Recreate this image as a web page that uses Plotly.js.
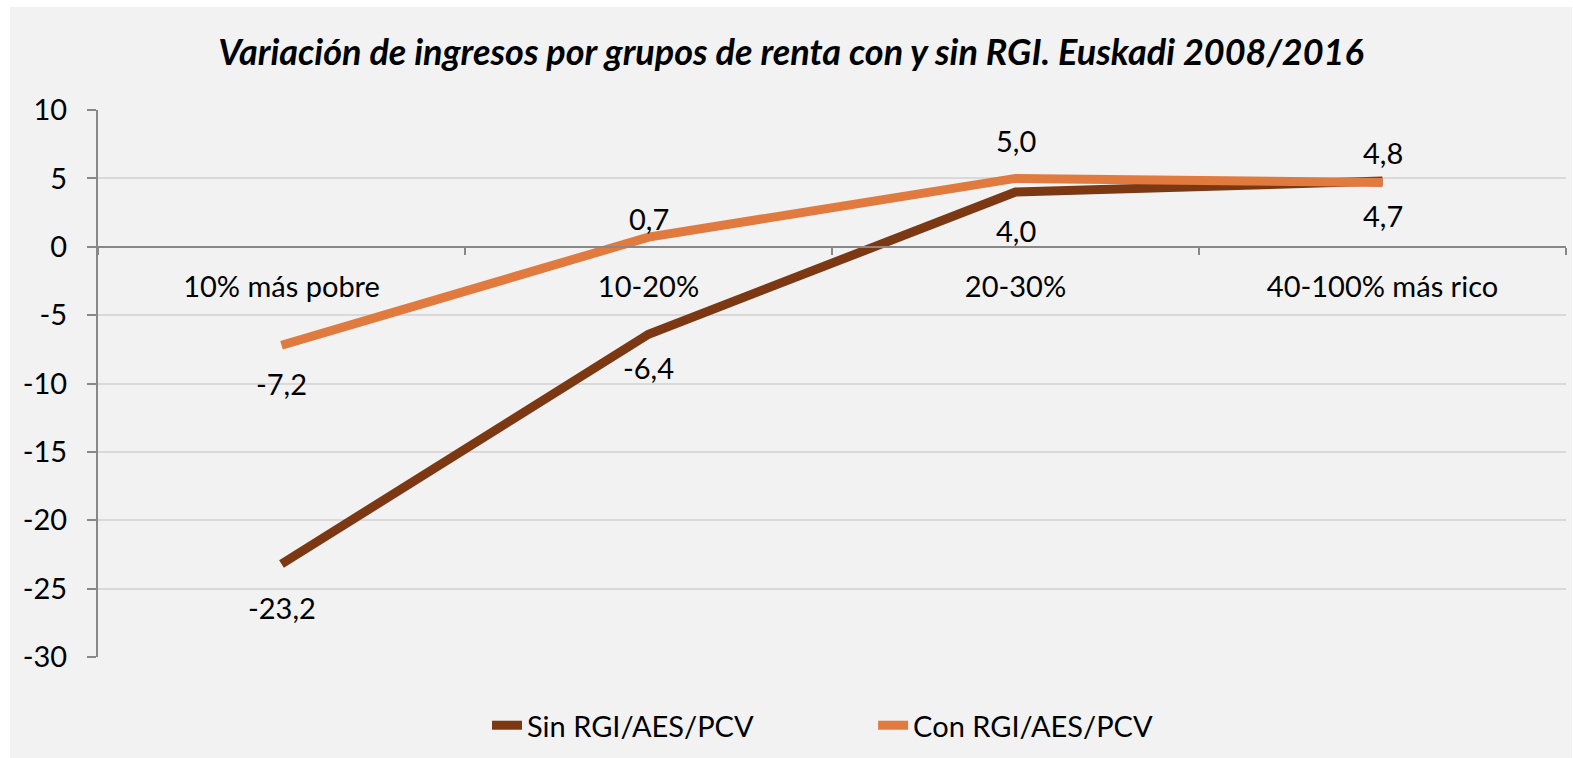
<!DOCTYPE html>
<html>
<head>
<meta charset="utf-8">
<script src="https://cdn.plot.ly/plotly-3.0.1.min.js"></script>
<style>
  html, body { margin: 0; padding: 0; background: #ffffff; }
  #chart { position: absolute; left: 10px; top: 7px; width: 1562px; height: 751px; }
</style>
</head>
<body>
<div id="chart"></div>
<script>
// ---- data ----
const categories = ["10% más pobre", "10-20%", "20-30%", "40-100% más rico"];
const sinValues = [-23.2, -6.4, 4.0, 4.8];
const conValues = [-7.2, 0.7, 5.0, 4.7];
const seriesNames = ["Sin RGI/AES/PCV", "Con RGI/AES/PCV"];
const yTicks = [-30, -25, -20, -15, -10, -5, 0, 5, 10];

// ---- label placement (style) ----
const sinShift = [-43, -33, -38, 29];
const conShift = [-38, 19, 38, -33];

const fontFam = "Lato, 'Open Sans', 'Liberation Sans', sans-serif";
const fmt = v => v.toFixed(1).replace('.', ',');
const FS = 29;

const traces = [
  { x: categories, y: sinValues, name: seriesNames[0], type: 'scatter', mode: 'lines',
    line: { color: '#7b3812', width: 9 }, hoverinfo: 'skip', legend: 'legend' },
  { x: categories, y: conValues, name: seriesNames[1], type: 'scatter', mode: 'lines',
    line: { color: '#e07a3f', width: 9 }, hoverinfo: 'skip', legend: 'legend2' }
];

const annotations = [];
categories.forEach((c, i) => {
  annotations.push({ x: c, y: sinValues[i], xref: 'x', yref: 'y', text: fmt(sinValues[i]),
    showarrow: false, yshift: sinShift[i], font: { family: fontFam, size: FS, color: '#000' } });
  annotations.push({ x: c, y: conValues[i], xref: 'x', yref: 'y', text: fmt(conValues[i]),
    showarrow: false, yshift: conShift[i], font: { family: fontFam, size: FS, color: '#000' } });
});

const legendBase = { orientation: 'h', xanchor: 'left', y: -0.125, yanchor: 'middle',
  font: { family: fontFam, size: FS, color: '#000' }, bgcolor: 'rgba(0,0,0,0)', itemwidth: 30 };

const layout = {
  width: 1562, height: 751,
  paper_bgcolor: '#f2f2f2', plot_bgcolor: '#f2f2f2',
  margin: { l: 88, r: 6, t: 103, b: 101 },
  font: { family: fontFam, size: FS, color: '#000' },
  title: { text: '<b><i>Variación de ingresos por grupos de renta con y sin RGI. Euskadi 2008/2016</i></b>',
    font: { family: fontFam, size: 36, color: '#000' }, x: 0.5, xanchor: 'center', y: 0.94, yanchor: 'middle' },
  showlegend: true,
  legend: Object.assign({}, legendBase, { x: 0.265 }),
  legend2: Object.assign({}, legendBase, { x: 0.528 }),
  xaxis: {
    type: 'category', range: [-0.5, 3.5], anchor: 'free', position: 0.75,
    showline: true, linecolor: '#888888', linewidth: 2,
    ticks: 'outside', tickson: 'boundaries', ticklen: 7, tickcolor: '#888888', tickwidth: 2,
    showgrid: false, zeroline: false, ticklabelstandoff: 14,
    tickfont: { family: fontFam, size: FS, color: '#000' }
  },
  yaxis: {
    range: [-30, 10], tickvals: yTicks, ticktext: yTicks.map(String),
    showline: true, linecolor: '#888888', linewidth: 2,
    ticks: 'outside', ticklen: 9, tickcolor: '#888888', tickwidth: 2,
    showgrid: true, gridcolor: '#d9d9d9', gridwidth: 2, zeroline: false,
    ticklabelstandoff: 14,
    tickfont: { family: fontFam, size: FS, color: '#000' }
  },
  annotations: annotations
};

Plotly.newPlot('chart', traces, layout, { displayModeBar: false, staticPlot: true });
</script>
</body>
</html>
